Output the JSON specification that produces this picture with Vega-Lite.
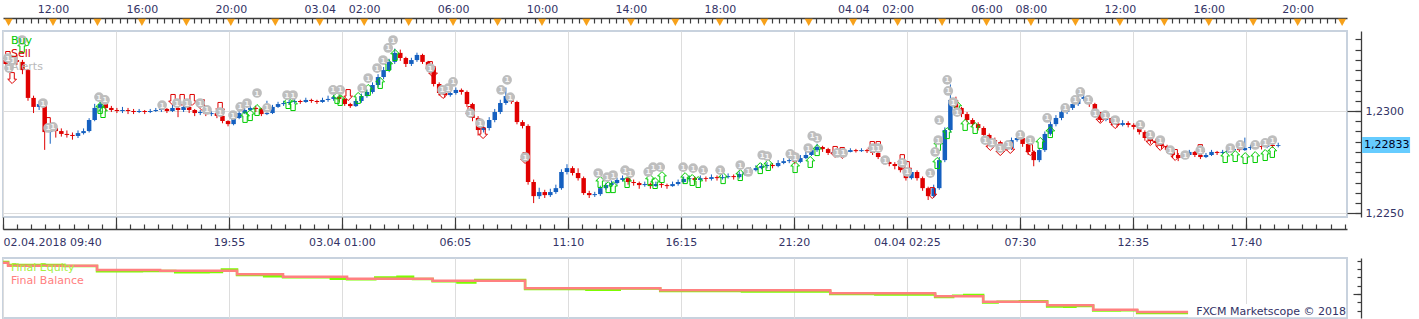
{
"$schema":"https://vega.github.io/schema/vega-lite/v6.json",
"background":"white",
"padding":{"left":-3,"top":2,"right":0,"bottom":0},
"bounds":"flush",
"spacing":41,
"config":{"font":"DejaVu Sans","view":{"stroke":"#c8d2de","strokeWidth":2},"scale":{"continuousPadding":0},
"axis":{"labelFont":"DejaVu Sans","labelFontSize":11,"labelColor":"#333366","domainColor":"#3c3c3c","tickColor":"#3c3c3c","gridColor":"#dddddd","gridWidth":1,"domainWidth":1.3,"tickWidth":1.2}},
"resolve":{"scale":{"color":"independent"},"legend":{"color":"independent"}},
"datasets":{
"tri":[{"t":10},{"t":12},{"t":14},{"t":16},{"t":18},{"t":20},{"t":22},{"t":24},{"t":26},{"t":28},{"t":30},{"t":32},{"t":34},{"t":36},{"t":38},{"t":40},{"t":42},{"t":44},{"t":46},{"t":48},{"t":50},{"t":52},{"t":54},{"t":56},{"t":58},{"t":60},{"t":62},{"t":64},{"t":66},{"t":68},{"t":70}],
"candles":[
{"t":9.875,"o":1.23249,"h":1.23265,"l":1.23215,"c":1.2323},
{"t":10.125,"o":1.2323,"h":1.2327,"l":1.2322,"c":1.23249},
{"t":10.375,"o":1.23249,"h":1.23275,"l":1.23225,"c":1.2324},
{"t":10.625,"o":1.2324,"h":1.2325,"l":1.2318,"c":1.232},
{"t":10.875,"o":1.232,"h":1.23205,"l":1.2305,"c":1.23064},
{"t":11.125,"o":1.23064,"h":1.23075,"l":1.2299,"c":1.2302},
{"t":11.375,"o":1.2302,"h":1.2305,"l":1.23005,"c":1.23034},
{"t":11.625,"o":1.23034,"h":1.2304,"l":1.2281,"c":1.22897},
{"t":11.875,"o":1.22897,"h":1.2293,"l":1.2284,"c":1.22917},
{"t":12.125,"o":1.22917,"h":1.22935,"l":1.2287,"c":1.22902},
{"t":12.375,"o":1.22902,"h":1.22915,"l":1.22875,"c":1.22888},
{"t":12.625,"o":1.22888,"h":1.22905,"l":1.2287,"c":1.22883},
{"t":12.875,"o":1.22883,"h":1.22895,"l":1.2286,"c":1.22878},
{"t":13.125,"o":1.22878,"h":1.22905,"l":1.22868,"c":1.22892},
{"t":13.375,"o":1.22892,"h":1.22915,"l":1.22885,"c":1.22902},
{"t":13.625,"o":1.22902,"h":1.22965,"l":1.22895,"c":1.22956},
{"t":13.875,"o":1.22956,"h":1.23035,"l":1.2295,"c":1.23015},
{"t":14.125,"o":1.23015,"h":1.23045,"l":1.23,"c":1.23034},
{"t":14.375,"o":1.23034,"h":1.2304,"l":1.23,"c":1.23015},
{"t":14.625,"o":1.23015,"h":1.23025,"l":1.22995,"c":1.23005},
{"t":14.875,"o":1.23005,"h":1.23015,"l":1.2299,"c":1.23},
{"t":15.125,"o":1.23,"h":1.2302,"l":1.2299,"c":1.23005},
{"t":15.375,"o":1.23005,"h":1.23015,"l":1.22985,"c":1.23},
{"t":15.625,"o":1.23,"h":1.2301,"l":1.22985,"c":1.22995},
{"t":15.875,"o":1.22995,"h":1.2301,"l":1.2299,"c":1.23},
{"t":16.125,"o":1.23,"h":1.23005,"l":1.22985,"c":1.22995},
{"t":16.375,"o":1.22995,"h":1.2301,"l":1.2299,"c":1.23},
{"t":16.625,"o":1.23,"h":1.23015,"l":1.22995,"c":1.23005},
{"t":16.875,"o":1.23005,"h":1.2302,"l":1.22995,"c":1.2301},
{"t":17.125,"o":1.2301,"h":1.23015,"l":1.2299,"c":1.23},
{"t":17.375,"o":1.23,"h":1.2303,"l":1.22995,"c":1.23015},
{"t":17.625,"o":1.23015,"h":1.2302,"l":1.2297,"c":1.23005},
{"t":17.875,"o":1.23005,"h":1.23035,"l":1.22995,"c":1.2302},
{"t":18.125,"o":1.2302,"h":1.2303,"l":1.2299,"c":1.23005},
{"t":18.375,"o":1.23005,"h":1.2301,"l":1.22975,"c":1.2299},
{"t":18.625,"o":1.2299,"h":1.23005,"l":1.2298,"c":1.22995},
{"t":18.875,"o":1.22995,"h":1.23,"l":1.22975,"c":1.22985},
{"t":19.125,"o":1.22985,"h":1.23,"l":1.22975,"c":1.2299},
{"t":19.375,"o":1.2299,"h":1.22995,"l":1.22965,"c":1.22976},
{"t":19.625,"o":1.22976,"h":1.2298,"l":1.2294,"c":1.22951},
{"t":19.875,"o":1.22951,"h":1.22955,"l":1.22925,"c":1.22936},
{"t":20.125,"o":1.22936,"h":1.22975,"l":1.2293,"c":1.22966},
{"t":20.375,"o":1.22966,"h":1.23,"l":1.2296,"c":1.2299},
{"t":20.625,"o":1.2299,"h":1.23015,"l":1.22985,"c":1.23005},
{"t":20.875,"o":1.23005,"h":1.2303,"l":1.23,"c":1.23015},
{"t":21.125,"o":1.23015,"h":1.23025,"l":1.22995,"c":1.2301},
{"t":21.375,"o":1.2301,"h":1.23015,"l":1.22975,"c":1.22985},
{"t":21.625,"o":1.22985,"h":1.2305,"l":1.2298,"c":1.2299},
{"t":21.875,"o":1.2299,"h":1.2303,"l":1.22985,"c":1.2302},
{"t":22.125,"o":1.2302,"h":1.23045,"l":1.23015,"c":1.23034},
{"t":22.375,"o":1.23034,"h":1.2305,"l":1.23025,"c":1.23039},
{"t":22.625,"o":1.23039,"h":1.23055,"l":1.2303,"c":1.23044},
{"t":22.875,"o":1.23044,"h":1.2306,"l":1.23035,"c":1.23049},
{"t":23.125,"o":1.23049,"h":1.23055,"l":1.23035,"c":1.23044},
{"t":23.375,"o":1.23044,"h":1.23065,"l":1.2304,"c":1.23054},
{"t":23.625,"o":1.23054,"h":1.2306,"l":1.2304,"c":1.23049},
{"t":23.875,"o":1.23049,"h":1.23055,"l":1.23035,"c":1.23044},
{"t":24.125,"o":1.23044,"h":1.23065,"l":1.2304,"c":1.23054},
{"t":24.375,"o":1.23054,"h":1.23075,"l":1.23045,"c":1.23059},
{"t":24.625,"o":1.23059,"h":1.2308,"l":1.2305,"c":1.23068},
{"t":24.875,"o":1.23068,"h":1.23075,"l":1.23045,"c":1.23059},
{"t":25.125,"o":1.23059,"h":1.23065,"l":1.23025,"c":1.23034},
{"t":25.375,"o":1.23034,"h":1.2304,"l":1.23015,"c":1.23024},
{"t":25.625,"o":1.23024,"h":1.2306,"l":1.2302,"c":1.23049},
{"t":25.875,"o":1.23049,"h":1.23085,"l":1.2304,"c":1.23073},
{"t":26.125,"o":1.23073,"h":1.23105,"l":1.23065,"c":1.23093},
{"t":26.375,"o":1.23093,"h":1.2314,"l":1.23085,"c":1.23127},
{"t":26.625,"o":1.23127,"h":1.2318,"l":1.23115,"c":1.23166},
{"t":26.875,"o":1.23166,"h":1.23215,"l":1.23155,"c":1.232},
{"t":27.125,"o":1.232,"h":1.23255,"l":1.2319,"c":1.2324},
{"t":27.375,"o":1.2324,"h":1.23305,"l":1.2323,"c":1.23284},
{"t":27.625,"o":1.23284,"h":1.233,"l":1.23245,"c":1.23259},
{"t":27.875,"o":1.23259,"h":1.23265,"l":1.23215,"c":1.2323},
{"t":28.125,"o":1.2323,"h":1.2326,"l":1.2322,"c":1.23249},
{"t":28.375,"o":1.23249,"h":1.23285,"l":1.2324,"c":1.23274},
{"t":28.625,"o":1.23274,"h":1.2328,"l":1.2323,"c":1.2324},
{"t":28.875,"o":1.2324,"h":1.23245,"l":1.23195,"c":1.2321},
{"t":29.125,"o":1.2321,"h":1.23215,"l":1.2312,"c":1.23132},
{"t":29.375,"o":1.23132,"h":1.2314,"l":1.23075,"c":1.23088},
{"t":29.625,"o":1.23088,"h":1.231,"l":1.23065,"c":1.23078},
{"t":29.875,"o":1.23078,"h":1.231,"l":1.2307,"c":1.23088},
{"t":30.125,"o":1.23088,"h":1.23115,"l":1.2308,"c":1.23103},
{"t":30.375,"o":1.23103,"h":1.2311,"l":1.2308,"c":1.23093},
{"t":30.625,"o":1.23093,"h":1.231,"l":1.2302,"c":1.23034},
{"t":30.875,"o":1.23034,"h":1.2304,"l":1.2295,"c":1.22966},
{"t":31.125,"o":1.22966,"h":1.22975,"l":1.2288,"c":1.22907},
{"t":31.375,"o":1.22907,"h":1.22935,"l":1.22895,"c":1.22917},
{"t":31.625,"o":1.22917,"h":1.2297,"l":1.22905,"c":1.22956},
{"t":31.875,"o":1.22956,"h":1.2301,"l":1.22945,"c":1.22995},
{"t":32.125,"o":1.22995,"h":1.23055,"l":1.22985,"c":1.23039},
{"t":32.375,"o":1.23039,"h":1.23115,"l":1.2303,"c":1.23073},
{"t":32.625,"o":1.23073,"h":1.2308,"l":1.23035,"c":1.23044},
{"t":32.875,"o":1.23044,"h":1.2305,"l":1.22935,"c":1.22946},
{"t":33.125,"o":1.22946,"h":1.22955,"l":1.22915,"c":1.22927},
{"t":33.375,"o":1.22927,"h":1.22935,"l":1.2264,"c":1.22653},
{"t":33.625,"o":1.22653,"h":1.22665,"l":1.2255,"c":1.22584},
{"t":33.875,"o":1.22584,"h":1.22625,"l":1.2257,"c":1.22604},
{"t":34.125,"o":1.22604,"h":1.22615,"l":1.22575,"c":1.22589},
{"t":34.375,"o":1.22589,"h":1.2262,"l":1.2258,"c":1.22604},
{"t":34.625,"o":1.22604,"h":1.2264,"l":1.22595,"c":1.22623},
{"t":34.875,"o":1.22623,"h":1.22715,"l":1.22615,"c":1.22702},
{"t":35.125,"o":1.22702,"h":1.2274,"l":1.2269,"c":1.22721},
{"t":35.375,"o":1.22721,"h":1.2273,"l":1.22685,"c":1.22697},
{"t":35.625,"o":1.22697,"h":1.2272,"l":1.2266,"c":1.22672},
{"t":35.875,"o":1.22672,"h":1.2268,"l":1.2259,"c":1.22599},
{"t":36.125,"o":1.22599,"h":1.2261,"l":1.22575,"c":1.22589},
{"t":36.375,"o":1.22589,"h":1.22605,"l":1.2258,"c":1.22594},
{"t":36.625,"o":1.22594,"h":1.22635,"l":1.22585,"c":1.22623},
{"t":36.875,"o":1.22623,"h":1.2265,"l":1.22615,"c":1.22638},
{"t":37.125,"o":1.22638,"h":1.2266,"l":1.2263,"c":1.22648},
{"t":37.375,"o":1.22648,"h":1.22675,"l":1.2264,"c":1.22663},
{"t":37.625,"o":1.22663,"h":1.22685,"l":1.22655,"c":1.22672},
{"t":37.875,"o":1.22672,"h":1.2268,"l":1.2264,"c":1.22653},
{"t":38.125,"o":1.22653,"h":1.22665,"l":1.22635,"c":1.22648},
{"t":38.375,"o":1.22648,"h":1.22655,"l":1.2262,"c":1.22638},
{"t":38.625,"o":1.22638,"h":1.22655,"l":1.2263,"c":1.22643},
{"t":38.875,"o":1.22643,"h":1.2265,"l":1.2262,"c":1.22633},
{"t":39.125,"o":1.22633,"h":1.22655,"l":1.2263,"c":1.22643},
{"t":39.375,"o":1.22643,"h":1.2265,"l":1.22625,"c":1.22638},
{"t":39.625,"o":1.22638,"h":1.22645,"l":1.2262,"c":1.22633},
{"t":39.875,"o":1.22633,"h":1.22655,"l":1.2263,"c":1.22643},
{"t":40.125,"o":1.22643,"h":1.22665,"l":1.22635,"c":1.22653},
{"t":40.375,"o":1.22653,"h":1.2268,"l":1.22645,"c":1.22668},
{"t":40.625,"o":1.22668,"h":1.22685,"l":1.22655,"c":1.22672},
{"t":40.875,"o":1.22672,"h":1.2268,"l":1.2264,"c":1.22663},
{"t":41.125,"o":1.22663,"h":1.22685,"l":1.22655,"c":1.22672},
{"t":41.375,"o":1.22672,"h":1.2268,"l":1.22655,"c":1.22668},
{"t":41.625,"o":1.22668,"h":1.2269,"l":1.2266,"c":1.22677},
{"t":41.875,"o":1.22677,"h":1.22685,"l":1.2266,"c":1.22672},
{"t":42.125,"o":1.22672,"h":1.2269,"l":1.22665,"c":1.22677},
{"t":42.375,"o":1.22677,"h":1.22695,"l":1.2267,"c":1.22682},
{"t":42.625,"o":1.22682,"h":1.2269,"l":1.22665,"c":1.22677},
{"t":42.875,"o":1.22677,"h":1.22705,"l":1.2267,"c":1.22692},
{"t":43.125,"o":1.22692,"h":1.22715,"l":1.22685,"c":1.22702},
{"t":43.375,"o":1.22702,"h":1.22725,"l":1.22695,"c":1.22711},
{"t":43.625,"o":1.22711,"h":1.22735,"l":1.22705,"c":1.22721},
{"t":43.875,"o":1.22721,"h":1.22745,"l":1.22715,"c":1.22731},
{"t":44.125,"o":1.22731,"h":1.2275,"l":1.2272,"c":1.22736},
{"t":44.375,"o":1.22736,"h":1.22745,"l":1.2272,"c":1.22731},
{"t":44.625,"o":1.22731,"h":1.2276,"l":1.22725,"c":1.22746},
{"t":44.875,"o":1.22746,"h":1.2277,"l":1.2274,"c":1.22755},
{"t":45.125,"o":1.22755,"h":1.22775,"l":1.22745,"c":1.2276},
{"t":45.375,"o":1.2276,"h":1.228,"l":1.2274,"c":1.22751},
{"t":45.625,"o":1.22751,"h":1.22785,"l":1.22745,"c":1.2277},
{"t":45.875,"o":1.2277,"h":1.228,"l":1.22765,"c":1.22785},
{"t":46.125,"o":1.22785,"h":1.22825,"l":1.2278,"c":1.22809},
{"t":46.375,"o":1.22809,"h":1.2284,"l":1.228,"c":1.22824},
{"t":46.625,"o":1.22824,"h":1.2283,"l":1.228,"c":1.22814},
{"t":46.875,"o":1.22814,"h":1.2282,"l":1.22785,"c":1.22795},
{"t":47.125,"o":1.22795,"h":1.2281,"l":1.2279,"c":1.228},
{"t":47.375,"o":1.228,"h":1.22815,"l":1.22795,"c":1.22804},
{"t":47.625,"o":1.22804,"h":1.22812,"l":1.22792,"c":1.228},
{"t":47.875,"o":1.228,"h":1.22818,"l":1.22798,"c":1.22809},
{"t":48.125,"o":1.22809,"h":1.22815,"l":1.22797,"c":1.22804},
{"t":48.375,"o":1.22804,"h":1.22818,"l":1.228,"c":1.22809},
{"t":48.625,"o":1.22809,"h":1.22815,"l":1.22795,"c":1.22804},
{"t":48.875,"o":1.22804,"h":1.22812,"l":1.22785,"c":1.22795},
{"t":49.125,"o":1.22795,"h":1.228,"l":1.22765,"c":1.22775},
{"t":49.375,"o":1.22775,"h":1.2278,"l":1.2274,"c":1.22751},
{"t":49.625,"o":1.22751,"h":1.2276,"l":1.2273,"c":1.22741},
{"t":49.875,"o":1.22741,"h":1.2275,"l":1.22715,"c":1.22731},
{"t":50.125,"o":1.22731,"h":1.2274,"l":1.227,"c":1.22711},
{"t":50.375,"o":1.22711,"h":1.2272,"l":1.2266,"c":1.22672},
{"t":50.625,"o":1.22672,"h":1.22715,"l":1.22665,"c":1.22702},
{"t":50.875,"o":1.22702,"h":1.2271,"l":1.2266,"c":1.22672},
{"t":51.125,"o":1.22672,"h":1.2268,"l":1.2261,"c":1.22623},
{"t":51.375,"o":1.22623,"h":1.2263,"l":1.22565,"c":1.22584},
{"t":51.625,"o":1.22584,"h":1.2264,"l":1.22575,"c":1.22623},
{"t":51.875,"o":1.22623,"h":1.22775,"l":1.22615,"c":1.2276},
{"t":52.125,"o":1.2276,"h":1.2292,"l":1.2275,"c":1.22907},
{"t":52.375,"o":1.22907,"h":1.2313,"l":1.22895,"c":1.23054},
{"t":52.625,"o":1.23054,"h":1.2307,"l":1.23,"c":1.23015},
{"t":52.875,"o":1.23015,"h":1.2302,"l":1.2297,"c":1.22985},
{"t":53.125,"o":1.22985,"h":1.22995,"l":1.22945,"c":1.22956},
{"t":53.375,"o":1.22956,"h":1.22965,"l":1.22925,"c":1.22936},
{"t":53.625,"o":1.22936,"h":1.22945,"l":1.22905,"c":1.22917},
{"t":53.875,"o":1.22917,"h":1.22925,"l":1.2287,"c":1.22883},
{"t":54.125,"o":1.22883,"h":1.2289,"l":1.22845,"c":1.22858},
{"t":54.375,"o":1.22858,"h":1.2287,"l":1.22835,"c":1.22848},
{"t":54.625,"o":1.22848,"h":1.22855,"l":1.22815,"c":1.22829},
{"t":54.875,"o":1.22829,"h":1.2284,"l":1.22805,"c":1.22819},
{"t":55.125,"o":1.22819,"h":1.2287,"l":1.2281,"c":1.22858},
{"t":55.375,"o":1.22858,"h":1.2288,"l":1.2285,"c":1.22868},
{"t":55.625,"o":1.22868,"h":1.22875,"l":1.22825,"c":1.22839},
{"t":55.875,"o":1.22839,"h":1.22845,"l":1.22785,"c":1.228},
{"t":56.125,"o":1.228,"h":1.22805,"l":1.2273,"c":1.2276},
{"t":56.375,"o":1.2276,"h":1.2282,"l":1.2275,"c":1.22809},
{"t":56.625,"o":1.22809,"h":1.229,"l":1.228,"c":1.22888},
{"t":56.875,"o":1.22888,"h":1.2295,"l":1.2288,"c":1.22936},
{"t":57.125,"o":1.22936,"h":1.2298,"l":1.22925,"c":1.22966},
{"t":57.375,"o":1.22966,"h":1.2301,"l":1.22955,"c":1.22995},
{"t":57.625,"o":1.22995,"h":1.2303,"l":1.22985,"c":1.23015},
{"t":57.875,"o":1.23015,"h":1.2305,"l":1.23005,"c":1.23034},
{"t":58.125,"o":1.23034,"h":1.23075,"l":1.23025,"c":1.23059},
{"t":58.375,"o":1.23059,"h":1.23095,"l":1.2305,"c":1.23068},
{"t":58.625,"o":1.23068,"h":1.23075,"l":1.2302,"c":1.23034},
{"t":58.875,"o":1.23034,"h":1.2304,"l":1.2297,"c":1.22985},
{"t":59.125,"o":1.22985,"h":1.2299,"l":1.22945,"c":1.22956},
{"t":59.375,"o":1.22956,"h":1.2298,"l":1.2295,"c":1.22966},
{"t":59.625,"o":1.22966,"h":1.2297,"l":1.2293,"c":1.22941},
{"t":59.875,"o":1.22941,"h":1.2295,"l":1.2292,"c":1.22932},
{"t":60.125,"o":1.22932,"h":1.22955,"l":1.22925,"c":1.22941},
{"t":60.375,"o":1.22941,"h":1.2295,"l":1.2292,"c":1.22932},
{"t":60.625,"o":1.22932,"h":1.2294,"l":1.2291,"c":1.22922},
{"t":60.875,"o":1.22922,"h":1.2293,"l":1.22885,"c":1.22897},
{"t":61.125,"o":1.22897,"h":1.22905,"l":1.22855,"c":1.22868},
{"t":61.375,"o":1.22868,"h":1.22875,"l":1.2284,"c":1.22853},
{"t":61.625,"o":1.22853,"h":1.22865,"l":1.2283,"c":1.22844},
{"t":61.875,"o":1.22844,"h":1.2285,"l":1.22815,"c":1.22829},
{"t":62.125,"o":1.22829,"h":1.22835,"l":1.22795,"c":1.22809},
{"t":62.375,"o":1.22809,"h":1.22815,"l":1.2277,"c":1.22785},
{"t":62.625,"o":1.22785,"h":1.22795,"l":1.22755,"c":1.2277},
{"t":62.875,"o":1.2277,"h":1.22795,"l":1.22765,"c":1.22785},
{"t":63.125,"o":1.22785,"h":1.2281,"l":1.2278,"c":1.228},
{"t":63.375,"o":1.228,"h":1.22805,"l":1.22775,"c":1.22785},
{"t":63.625,"o":1.22785,"h":1.22795,"l":1.22765,"c":1.22775},
{"t":63.875,"o":1.22775,"h":1.22795,"l":1.2277,"c":1.22785},
{"t":64.125,"o":1.22785,"h":1.2281,"l":1.2278,"c":1.228},
{"t":64.375,"o":1.228,"h":1.22805,"l":1.22785,"c":1.22795},
{"t":64.625,"o":1.22795,"h":1.2281,"l":1.2279,"c":1.228},
{"t":64.875,"o":1.228,"h":1.22818,"l":1.22795,"c":1.22809},
{"t":65.125,"o":1.22809,"h":1.22825,"l":1.228,"c":1.22814},
{"t":65.375,"o":1.22814,"h":1.2282,"l":1.228,"c":1.22809},
{"t":65.625,"o":1.22809,"h":1.2287,"l":1.22805,"c":1.22819},
{"t":65.875,"o":1.22819,"h":1.22835,"l":1.2281,"c":1.22824},
{"t":66.125,"o":1.22824,"h":1.2284,"l":1.22815,"c":1.22829},
{"t":66.375,"o":1.22829,"h":1.22838,"l":1.22812,"c":1.22824},
{"t":66.625,"o":1.22824,"h":1.22845,"l":1.22818,"c":1.22834},
{"t":66.875,"o":1.22834,"h":1.22842,"l":1.2282,"c":1.22829},
{"t":67.125,"o":1.22829,"h":1.22845,"l":1.22822,"c":1.22833}
],
"markers":[
{"t":9.97,"p":1.23259,"type":"Alerts"},{"t":10.02,"p":1.2321,"type":"Alerts"},{"t":10.2,"p":1.23249,"type":"Alerts"},{"t":10.61,"p":1.23347,"type":"Alerts"},{"t":11.55,"p":1.23039,"type":"Alerts"},{"t":11.78,"p":1.22917,"type":"Alerts"},{"t":12.0,"p":1.22922,"type":"Alerts"},{"t":14.07,"p":1.23068,"type":"Alerts"},{"t":14.34,"p":1.23054,"type":"Alerts"},{"t":16.91,"p":1.23029,"type":"Alerts"},{"t":17.58,"p":1.23039,"type":"Alerts"},{"t":18.03,"p":1.23039,"type":"Alerts"},{"t":18.62,"p":1.23039,"type":"Alerts"},{"t":18.93,"p":1.23005,"type":"Alerts"},{"t":19.52,"p":1.22995,"type":"Alerts"},{"t":20.1,"p":1.2298,"type":"Alerts"},{"t":20.42,"p":1.2302,"type":"Alerts"},{"t":20.73,"p":1.23039,"type":"Alerts"},{"t":21.18,"p":1.23088,"type":"Alerts"},{"t":21.63,"p":1.23015,"type":"Alerts"},{"t":22.53,"p":1.23078,"type":"Alerts"},{"t":22.8,"p":1.23078,"type":"Alerts"},{"t":24.6,"p":1.23103,"type":"Alerts"},{"t":24.92,"p":1.23103,"type":"Alerts"},{"t":25.91,"p":1.23112,"type":"Alerts"},{"t":26.18,"p":1.23161,"type":"Alerts"},{"t":26.58,"p":1.2321,"type":"Alerts"},{"t":26.85,"p":1.23249,"type":"Alerts"},{"t":27.08,"p":1.23308,"type":"Alerts"},{"t":27.3,"p":1.23347,"type":"Alerts"},{"t":28.97,"p":1.2321,"type":"Alerts"},{"t":29.51,"p":1.23103,"type":"Alerts"},{"t":29.78,"p":1.23112,"type":"Alerts"},{"t":30.0,"p":1.23142,"type":"Alerts"},{"t":30.77,"p":1.2299,"type":"Alerts"},{"t":31.22,"p":1.22941,"type":"Alerts"},{"t":32.16,"p":1.23103,"type":"Alerts"},{"t":32.43,"p":1.23152,"type":"Alerts"},{"t":32.57,"p":1.23068,"type":"Alerts"},{"t":33.24,"p":1.22775,"type":"Alerts"},{"t":36.53,"p":1.22697,"type":"Alerts"},{"t":36.93,"p":1.22677,"type":"Alerts"},{"t":37.2,"p":1.22687,"type":"Alerts"},{"t":37.74,"p":1.22711,"type":"Alerts"},{"t":37.97,"p":1.22697,"type":"Alerts"},{"t":38.78,"p":1.22702,"type":"Alerts"},{"t":39.0,"p":1.22726,"type":"Alerts"},{"t":39.32,"p":1.22726,"type":"Alerts"},{"t":40.35,"p":1.22726,"type":"Alerts"},{"t":40.8,"p":1.22721,"type":"Alerts"},{"t":41.25,"p":1.22711,"type":"Alerts"},{"t":42.02,"p":1.22711,"type":"Alerts"},{"t":42.92,"p":1.22736,"type":"Alerts"},{"t":43.28,"p":1.22702,"type":"Alerts"},{"t":43.91,"p":1.22785,"type":"Alerts"},{"t":44.13,"p":1.2278,"type":"Alerts"},{"t":45.17,"p":1.2279,"type":"Alerts"},{"t":45.39,"p":1.22775,"type":"Alerts"},{"t":45.98,"p":1.22819,"type":"Alerts"},{"t":46.16,"p":1.22878,"type":"Alerts"},{"t":46.38,"p":1.22868,"type":"Alerts"},{"t":47.28,"p":1.22795,"type":"Alerts"},{"t":47.55,"p":1.22795,"type":"Alerts"},{"t":48.9,"p":1.22819,"type":"Alerts"},{"t":49.13,"p":1.22819,"type":"Alerts"},{"t":49.44,"p":1.2276,"type":"Alerts"},{"t":50.21,"p":1.22746,"type":"Alerts"},{"t":50.43,"p":1.22702,"type":"Alerts"},{"t":51.47,"p":1.22697,"type":"Alerts"},{"t":51.69,"p":1.228,"type":"Alerts"},{"t":51.87,"p":1.22956,"type":"Alerts"},{"t":51.83,"p":1.22858,"type":"Alerts"},{"t":52.23,"p":1.23152,"type":"Alerts"},{"t":52.28,"p":1.23098,"type":"Alerts"},{"t":52.5,"p":1.23044,"type":"Alerts"},{"t":52.68,"p":1.22995,"type":"Alerts"},{"t":53.94,"p":1.22858,"type":"Alerts"},{"t":54.26,"p":1.22844,"type":"Alerts"},{"t":54.62,"p":1.22819,"type":"Alerts"},{"t":54.98,"p":1.22834,"type":"Alerts"},{"t":55.52,"p":1.22883,"type":"Alerts"},{"t":55.97,"p":1.22858,"type":"Alerts"},{"t":56.73,"p":1.22966,"type":"Alerts"},{"t":57.54,"p":1.23015,"type":"Alerts"},{"t":57.99,"p":1.23054,"type":"Alerts"},{"t":58.22,"p":1.23093,"type":"Alerts"},{"t":58.58,"p":1.23054,"type":"Alerts"},{"t":58.89,"p":1.2299,"type":"Alerts"},{"t":59.34,"p":1.2298,"type":"Alerts"},{"t":59.79,"p":1.22956,"type":"Alerts"},{"t":60.92,"p":1.22932,"type":"Alerts"},{"t":61.37,"p":1.22883,"type":"Alerts"},{"t":61.82,"p":1.22858,"type":"Alerts"},{"t":62.27,"p":1.22809,"type":"Alerts"},{"t":62.94,"p":1.22785,"type":"Alerts"},{"t":63.62,"p":1.22809,"type":"Alerts"},{"t":64.97,"p":1.22819,"type":"Alerts"},{"t":65.42,"p":1.22834,"type":"Alerts"},{"t":66.09,"p":1.22834,"type":"Alerts"},{"t":66.54,"p":1.22844,"type":"Alerts"},{"t":66.86,"p":1.22858,"type":"Alerts"},
{"t":10.61,"p":1.23313,"type":"Buy"},{"t":14.12,"p":1.23015,"type":"Buy"},{"t":14.25,"p":1.22995,"type":"Buy"},{"t":20.64,"p":1.22971,"type":"Buy"},{"t":20.87,"p":1.2298,"type":"Buy"},{"t":21.18,"p":1.23005,"type":"Buy"},{"t":22.58,"p":1.23039,"type":"Buy"},{"t":22.8,"p":1.23029,"type":"Buy"},{"t":24.78,"p":1.23064,"type":"Buy"},{"t":24.92,"p":1.23054,"type":"Buy"},{"t":25.73,"p":1.23064,"type":"Buy"},{"t":26.18,"p":1.23103,"type":"Buy"},{"t":26.72,"p":1.23137,"type":"Buy"},{"t":27.08,"p":1.23225,"type":"Buy"},{"t":27.39,"p":1.23274,"type":"Buy"},{"t":36.62,"p":1.22653,"type":"Buy"},{"t":36.98,"p":1.22628,"type":"Buy"},{"t":37.2,"p":1.22628,"type":"Buy"},{"t":37.83,"p":1.22653,"type":"Buy"},{"t":38.86,"p":1.22663,"type":"Buy"},{"t":39.09,"p":1.22648,"type":"Buy"},{"t":39.4,"p":1.22677,"type":"Buy"},{"t":40.44,"p":1.22672,"type":"Buy"},{"t":40.76,"p":1.22663,"type":"Buy"},{"t":41.03,"p":1.22653,"type":"Buy"},{"t":42.15,"p":1.22672,"type":"Buy"},{"t":42.92,"p":1.22687,"type":"Buy"},{"t":43.82,"p":1.22721,"type":"Buy"},{"t":44.18,"p":1.22736,"type":"Buy"},{"t":45.39,"p":1.22726,"type":"Buy"},{"t":46.07,"p":1.22751,"type":"Buy"},{"t":46.38,"p":1.22809,"type":"Buy"},{"t":51.78,"p":1.22746,"type":"Buy"},{"t":51.83,"p":1.22834,"type":"Buy"},{"t":52.23,"p":1.22892,"type":"Buy"},{"t":52.68,"p":1.2302,"type":"Buy"},{"t":53.04,"p":1.22932,"type":"Buy"},{"t":53.49,"p":1.22917,"type":"Buy"},{"t":56.42,"p":1.22844,"type":"Buy"},{"t":56.87,"p":1.22897,"type":"Buy"},{"t":64.74,"p":1.22775,"type":"Buy"},{"t":65.19,"p":1.2278,"type":"Buy"},{"t":65.64,"p":1.2277,"type":"Buy"},{"t":66.09,"p":1.22775,"type":"Buy"},{"t":66.54,"p":1.22785,"type":"Buy"},{"t":66.86,"p":1.228,"type":"Buy"},
{"t":9.97,"p":1.23264,"type":"Sell"},{"t":10.16,"p":1.23161,"type":"Sell"},{"t":11.78,"p":1.22941,"type":"Sell"},{"t":17.4,"p":1.23054,"type":"Sell"},{"t":17.81,"p":1.23054,"type":"Sell"},{"t":18.26,"p":1.23054,"type":"Sell"},{"t":18.71,"p":1.23029,"type":"Sell"},{"t":19.52,"p":1.23015,"type":"Sell"},{"t":25.28,"p":1.23078,"type":"Sell"},{"t":28.97,"p":1.23215,"type":"Sell"},{"t":29.1,"p":1.23191,"type":"Sell"},{"t":29.55,"p":1.23088,"type":"Sell"},{"t":30.77,"p":1.22995,"type":"Sell"},{"t":31.35,"p":1.22892,"type":"Sell"},{"t":33.24,"p":1.2277,"type":"Sell"},{"t":47.19,"p":1.228,"type":"Sell"},{"t":47.51,"p":1.22795,"type":"Sell"},{"t":48.86,"p":1.22824,"type":"Sell"},{"t":49.13,"p":1.22824,"type":"Sell"},{"t":50.21,"p":1.2276,"type":"Sell"},{"t":50.43,"p":1.22726,"type":"Sell"},{"t":51.56,"p":1.22599,"type":"Sell"},{"t":54.17,"p":1.22834,"type":"Sell"},{"t":54.62,"p":1.22809,"type":"Sell"},{"t":55.07,"p":1.22819,"type":"Sell"},{"t":55.97,"p":1.22809,"type":"Sell"},{"t":59.12,"p":1.22966,"type":"Sell"},{"t":59.79,"p":1.22941,"type":"Sell"},{"t":61.37,"p":1.22858,"type":"Sell"},{"t":61.82,"p":1.22834,"type":"Sell"},{"t":62.49,"p":1.22785,"type":"Sell"},{"t":63.62,"p":1.22809,"type":"Sell"}
],
"eq":[
{"t":9.75,"v":9938.5,"s":"Final Equity"},{"t":9.98,"v":9935,"s":"Final Equity"},{"t":12.5,"v":9933.8,"s":"Final Equity"},{"t":13.98,"v":9927.5,"s":"Final Equity"},{"t":16.0,"v":9927.8,"s":"Final Equity"},{"t":17.5,"v":9926.3,"s":"Final Equity"},{"t":19.0,"v":9926.5,"s":"Final Equity"},{"t":19.6,"v":9929.5,"s":"Final Equity"},{"t":20.28,"v":9923.0,"s":"Final Equity"},{"t":21.5,"v":9921.5,"s":"Final Equity"},{"t":22.35,"v":9920.3,"s":"Final Equity"},{"t":24.5,"v":9918.5,"s":"Final Equity"},{"t":25.23,"v":9917.8,"s":"Final Equity"},{"t":26.5,"v":9919.8,"s":"Final Equity"},{"t":27.5,"v":9920.8,"s":"Final Equity"},{"t":28.2,"v":9918.0,"s":"Final Equity"},{"t":29.08,"v":9915.5,"s":"Final Equity"},{"t":30.2,"v":9913.8,"s":"Final Equity"},{"t":31.0,"v":9916.8,"s":"Final Equity"},{"t":33.24,"v":9906.0,"s":"Final Equity"},{"t":36.0,"v":9905.0,"s":"Final Equity"},{"t":37.5,"v":9906.5,"s":"Final Equity"},{"t":39.32,"v":9903.6,"s":"Final Equity"},{"t":43.0,"v":9903.0,"s":"Final Equity"},{"t":46.97,"v":9900.0,"s":"Final Equity"},{"t":49.0,"v":9899.5,"s":"Final Equity"},{"t":51.69,"v":9896.5,"s":"Final Equity"},{"t":52.5,"v":9897.8,"s":"Final Equity"},{"t":53.0,"v":9898.8,"s":"Final Equity"},{"t":53.85,"v":9889.8,"s":"Final Equity"},{"t":54.5,"v":9890.6,"s":"Final Equity"},{"t":55.5,"v":9891.2,"s":"Final Equity"},{"t":56.73,"v":9885.0,"s":"Final Equity"},{"t":57.5,"v":9884.8,"s":"Final Equity"},{"t":58.0,"v":9885.5,"s":"Final Equity"},{"t":58.8,"v":9880.0,"s":"Final Equity"},{"t":60.0,"v":9880.5,"s":"Final Equity"},{"t":60.78,"v":9877.0,"s":"Final Equity"},{"t":62.0,"v":9877.2,"s":"Final Equity"},{"t":63.17,"v":9877.2,"s":"Final Equity"},
{"t":9.75,"v":9937.7,"s":"Final Balance"},{"t":9.98,"v":9934.1,"s":"Final Balance"},{"t":13.98,"v":9928.9,"s":"Final Balance"},{"t":16.82,"v":9928.1,"s":"Final Balance"},{"t":20.28,"v":9923.7,"s":"Final Balance"},{"t":22.35,"v":9920.8,"s":"Final Balance"},{"t":25.23,"v":9918.4,"s":"Final Balance"},{"t":29.08,"v":9916.0,"s":"Final Balance"},{"t":33.24,"v":9907.0,"s":"Final Balance"},{"t":39.32,"v":9904.5,"s":"Final Balance"},{"t":46.97,"v":9900.8,"s":"Final Balance"},{"t":51.69,"v":9897.2,"s":"Final Balance"},{"t":53.85,"v":9890.7,"s":"Final Balance"},{"t":56.73,"v":9886.4,"s":"Final Balance"},{"t":58.8,"v":9881.1,"s":"Final Balance"},{"t":60.78,"v":9878.3,"s":"Final Balance"},{"t":63.17,"v":9878.3,"s":"Final Balance"}
]
},
"vconcat":[
{
"width":1344,"height":186,
"resolve":{"axis":{"x":"independent","y":"independent"}},
"layer":[
{"data":{"name":"tri"},
 "mark":{"type":"point","shape":"M-1,-0.9L1,-0.9L0,0.9Z","filled":true,"color":"#f7a11a","opacity":1,"size":64,"strokeWidth":0},
 "encoding":{
  "x":{"field":"t","type":"quantitative","scale":{"domain":[9.75,70.22],"nice":false,"zero":false,"padding":0},
   "axis":{"orient":"top","offset":13,"values":[12,16,20,24,26,30,34,38,42,48,50,54,56,60,64,68],"labelExpr":"datum.value == 24 ? '03.04' : datum.value == 48 ? '04.04' : (format(datum.value % 24, '02d') + ':00')","ticks":false,"domain":true,"grid":false,"labelPadding":4,"labelOverlap":false,"title":null}},
  "y":{"datum":1.23433,"type":"quantitative","scale":{"domain":[1.22482,1.23391],"nice":false,"zero":false},"axis":null}}},
{"data":{"name":"candles"},
 "mark":{"type":"rule","strokeWidth":1},
 "encoding":{
  "x":{"field":"t","type":"quantitative","scale":{"domain":[9.75,70.22],"nice":false,"zero":false,"padding":0},
   "axis":{"orient":"top","offset":13,"values":[10,10.333,10.667,11,11.333,11.667,12,12.333,12.667,13,13.333,13.667,14,14.333,14.667,15,15.333,15.667,16,16.333,16.667,17,17.333,17.667,18,18.333,18.667,19,19.333,19.667,20,20.333,20.667,21,21.333,21.667,22,22.333,22.667,23,23.333,23.667,24,24.333,24.667,25,25.333,25.667,26,26.333,26.667,27,27.333,27.667,28,28.333,28.667,29,29.333,29.667,30,30.333,30.667,31,31.333,31.667,32,32.333,32.667,33,33.333,33.667,34,34.333,34.667,35,35.333,35.667,36,36.333,36.667,37,37.333,37.667,38,38.333,38.667,39,39.333,39.667,40,40.333,40.667,41,41.333,41.667,42,42.333,42.667,43,43.333,43.667,44,44.333,44.667,45,45.333,45.667,46,46.333,46.667,47,47.333,47.667,48,48.333,48.667,49,49.333,49.667,50,50.333,50.667,51,51.333,51.667,52,52.333,52.667,53,53.333,53.667,54,54.333,54.667,55,55.333,55.667,56,56.333,56.667,57,57.333,57.667,58,58.333,58.667,59,59.333,59.667,60,60.333,60.667,61,61.333,61.667,62,62.333,62.667,63,63.333,63.667,64,64.333,64.667,65,65.333,65.667,66,66.333,66.667,67,67.333,67.667,68,68.333,68.667,69,69.333,69.667,70],"tickSize":-5,"labels":false,"domain":false,"grid":false,"title":null}},
  "y":{"field":"l","type":"quantitative","scale":{"domain":[1.22482,1.23391],"nice":false,"zero":false},
   "axis":{"orient":"right","offset":14,"values":[1.225,1.23],"labelExpr":"replace(format(datum.value, '.4f'), '.', ',')","ticks":false,"domain":true,"grid":true,"labelPadding":4,"title":null}},
  "y2":{"field":"h"},
  "color":{"condition":{"test":"datum.c >= datum.o","value":"#1560c0"},"value":"#e00000"}}},
{"data":{"name":"candles"},
 "mark":{"type":"bar","size":4.5},
 "encoding":{
  "x":{"field":"t","type":"quantitative","scale":{"domain":[9.75,70.22],"nice":false,"zero":false,"padding":0},
   "axis":{"orient":"bottom","offset":12,"values":[9.75,14.833,19.917,25.0,30.083,35.167,40.25,45.333,50.417,55.5,60.583,65.667],"labelExpr":"datum.value < 10 ? '02.04.2018 09:40' : datum.value < 15 ? '' : datum.value < 20 ? '19:55' : datum.value < 26 ? '03.04 01:00' : datum.value < 31 ? '06:05' : datum.value < 36 ? '11:10' : datum.value < 41 ? '16:15' : datum.value < 46 ? '21:20' : datum.value < 51 ? '04.04 02:25' : datum.value < 56 ? '07:30' : datum.value < 61 ? '12:35' : '17:40'","labelAlign":{"condition":{"test":"datum.value < 10","value":"left"},"value":"center"},"ticks":false,"domain":true,"grid":true,"labelPadding":7,"labelOverlap":false,"title":null}},
  "y":{"field":"o","type":"quantitative","scale":{"domain":[1.22482,1.23391],"nice":false,"zero":false},
   "axis":{"orient":"right","offset":14,"values":[1.225,1.23],"tickSize":-14,"labels":false,"domain":false,"grid":false,"title":null}},
  "y2":{"field":"c"},
  "color":{"condition":{"test":"datum.c >= datum.o","value":"#1560c0"},"value":"#e00000"}}},
{"data":{"name":"markers"},
 "transform":[{"filter":"datum.type == 'Buy'"}],
 "mark":{"type":"point","shape":"M0,-1L0.8,-0.2L0.4,-0.2L0.4,1L-0.4,1L-0.4,-0.2L-0.8,-0.2Z","filled":false,"size":120,"strokeWidth":1,"opacity":1},
 "encoding":{
  "x":{"field":"t","type":"quantitative","scale":{"domain":[9.75,70.22],"nice":false,"zero":false,"padding":0},
   "axis":{"orient":"bottom","offset":12,"values":[9.75,10.385,11.021,11.656,12.292,12.927,13.563,14.198,14.833,15.469,16.104,16.74,17.375,18.01,18.646,19.281,19.917,20.552,21.188,21.823,22.458,23.094,23.729,24.365,25.0,25.635,26.271,26.906,27.542,28.177,28.813,29.448,30.083,30.719,31.354,31.99,32.625,33.26,33.896,34.531,35.167,35.802,36.438,37.073,37.708,38.344,38.979,39.615,40.25,40.885,41.521,42.156,42.792,43.427,44.063,44.698,45.333,45.969,46.604,47.24,47.875,48.51,49.146,49.781,50.417,51.052,51.688,52.323,52.958,53.594,54.229,54.865,55.5,56.135,56.771,57.406,58.042,58.677,59.313,59.948,60.583,61.219,61.854,62.49,63.125,63.76,64.396,65.031,65.667,66.302,66.938,67.573,68.208,68.844,69.479,70.115],"tickSize":-5,"labels":false,"domain":false,"grid":false,"title":null}},
  "y":{"field":"p","type":"quantitative","scale":{"domain":[1.22482,1.23391],"nice":false,"zero":false},
   "axis":{"orient":"right","offset":14,"values":[1.225,1.2255,1.226,1.2265,1.227,1.2275,1.228,1.2285,1.229,1.2295,1.23,1.2305,1.231,1.2315,1.232,1.2325,1.233,1.2335],"tickSize":-6,"labels":false,"domain":false,"grid":false,"title":null}},
  "color":{"field":"type","type":"nominal","scale":{"domain":["Buy","Sell","Alerts"],"range":["#00cc00","#dd0000","#bebebe"]},
   "legend":{"orient":"top-left","title":null,"offset":4,"padding":0,"symbolSize":0,"symbolOpacity":0,"symbolStrokeWidth":0,"labelOffset":-7,"labelFont":"DejaVu Sans","labelFontSize":11,"rowPadding":1,"labelColor":{"expr":"datum.value == 'Buy' ? '#00c800' : datum.value == 'Sell' ? '#d40000' : '#b9b9b9'"}}}}},
{"data":{"name":"markers"},
 "transform":[{"filter":"datum.type == 'Sell'"}],
 "mark":{"type":"point","shape":"M0,1L0.8,0.2L0.4,0.2L0.4,-1L-0.4,-1L-0.4,0.2L-0.8,0.2Z","filled":false,"size":120,"strokeWidth":1,"opacity":1},
 "encoding":{
  "x":{"field":"t","type":"quantitative","scale":{"domain":[9.75,70.22],"nice":false,"zero":false,"padding":0},
   "axis":{"orient":"bottom","offset":12,"values":[9.75,14.833,19.917,25.0,30.083,35.167,40.25,45.333,50.417,55.5,60.583,65.667],"tickSize":-12,"labels":false,"domain":false,"grid":false,"title":null}},
  "y":{"field":"p","type":"quantitative","scale":{"domain":[1.22482,1.23391],"nice":false,"zero":false},"axis":null},
  "color":{"field":"type","type":"nominal","scale":{"domain":["Buy","Sell","Alerts"],"range":["#00cc00","#dd0000","#bebebe"]}}}},
{"data":{"name":"markers"},
 "transform":[{"filter":"datum.type == 'Alerts'"}],
 "mark":{"type":"point","shape":"circle","filled":true,"size":95,"opacity":1},
 "encoding":{
  "x":{"field":"t","type":"quantitative","scale":{"domain":[9.75,70.22],"nice":false,"zero":false,"padding":0},"axis":null},
  "y":{"field":"p","type":"quantitative","scale":{"domain":[1.22482,1.23391],"nice":false,"zero":false},"axis":null},
  "color":{"field":"type","type":"nominal","scale":{"domain":["Buy","Sell","Alerts"],"range":["#00cc00","#dd0000","#bebebe"]}}}},
{"data":{"name":"markers"},
 "transform":[{"filter":"datum.type == 'Alerts'"}],
 "mark":{"type":"text","fontSize":7,"fontWeight":"bold","color":"#f4f4f4","baseline":"middle","align":"center","dy":0.5},
 "encoding":{
  "x":{"field":"t","type":"quantitative","scale":{"domain":[9.75,70.22],"nice":false,"zero":false,"padding":0},"axis":null},
  "y":{"field":"p","type":"quantitative","scale":{"domain":[1.22482,1.23391],"nice":false,"zero":false},"axis":null},
  "text":{"value":"1"}}},
{"data":{"values":[{"p":1.22833,"label":"1,22833"}]},
 "mark":{"type":"rect","color":"#66ccff"},
 "encoding":{
  "x":{"datum":70.898,"type":"quantitative","scale":{"domain":[9.75,70.22],"nice":false,"zero":false,"padding":0},"axis":null},
  "x2":{"datum":73.058},
  "y":{"datum":1.22873,"type":"quantitative","scale":{"domain":[1.22482,1.23391],"nice":false,"zero":false},"axis":null},
  "y2":{"datum":1.22795}}},
{"data":{"values":[{"p":1.22833,"label":"1,22833"}]},
 "mark":{"type":"text","align":"left","baseline":"middle","fontSize":11,"font":"DejaVu Sans","color":"#000022"},
 "encoding":{
  "x":{"datum":70.99,"type":"quantitative","scale":{"domain":[9.75,70.22],"nice":false,"zero":false,"padding":0},"axis":null},
  "y":{"field":"p","type":"quantitative","scale":{"domain":[1.22482,1.23391],"nice":false,"zero":false},"axis":null},
  "text":{"field":"label"}}}
]
},
{
"width":1344,"height":60,
"resolve":{"axis":{"x":"independent","y":"independent"}},
"layer":[
{"data":{"name":"eq"},
 "transform":[{"filter":"datum.s == 'Final Equity'"}],
 "mark":{"type":"line","interpolate":"step-after","strokeWidth":2.5},
 "encoding":{
  "x":{"field":"t","type":"quantitative","scale":{"domain":[9.75,70.22],"nice":false,"zero":false,"padding":0},
   "axis":{"orient":"bottom","values":[9.75,14.833,19.917,25.0,30.083,35.167,40.25,45.333,50.417,55.5,60.583,65.667],"grid":true,"ticks":false,"labels":false,"domain":false,"title":null}},
  "y":{"field":"v","type":"quantitative","scale":{"domain":[9871.1,9943.4],"nice":false,"zero":false},
   "axis":{"orient":"right","offset":14,"values":[9880,9890,9900,9910,9920,9930,9940],"tickSize":-4,"labels":false,"domain":true,"grid":false,"title":null}},
  "color":{"field":"s","type":"nominal","scale":{"domain":["Final Equity","Final Balance"],"range":["#7cfc00","#ff8080"]},
   "legend":{"orient":"top-left","title":null,"offset":4,"padding":0,"symbolSize":0,"symbolOpacity":0,"symbolStrokeWidth":0,"labelOffset":-7,"labelFont":"DejaVu Sans","labelFontSize":11,"rowPadding":1,"labelColor":{"expr":"datum.value == 'Final Equity' ? '#a4f03c' : '#ff8080'"}}}}},
{"data":{"name":"eq"},
 "transform":[{"filter":"datum.s == 'Final Balance'"}],
 "mark":{"type":"line","interpolate":"step-after","strokeWidth":2.5},
 "encoding":{
  "x":{"field":"t","type":"quantitative","scale":{"domain":[9.75,70.22],"nice":false,"zero":false,"padding":0},"axis":null},
  "y":{"field":"v","type":"quantitative","scale":{"domain":[9871.1,9943.4],"nice":false,"zero":false},
   "axis":{"orient":"right","offset":14,"values":[9900],"tickSize":-8,"labels":false,"domain":false,"grid":false,"title":null}},
  "color":{"field":"s","type":"nominal","scale":{"domain":["Final Equity","Final Balance"],"range":["#7cfc00","#ff8080"]}}}},
{"data":{"values":[{"label":"FXCM Marketscope © 2018"}]},
 "mark":{"type":"rect","color":"white"},
 "encoding":{
  "x":{"datum":63.07,"type":"quantitative","scale":{"domain":[9.75,70.22],"nice":false,"zero":false,"padding":0},"axis":null},
  "x2":{"datum":70.18},
  "y":{"datum":9872,"type":"quantitative","scale":{"domain":[9871.1,9943.4],"nice":false,"zero":false},"axis":null},
  "y2":{"datum":9888}}},
{"data":{"values":[{"label":"FXCM Marketscope © 2018"}]},
 "mark":{"type":"text","align":"right","baseline":"alphabetic","fontSize":11,"font":"DejaVu Sans","color":"#333366","dx":-1},
 "encoding":{
  "x":{"datum":70.22,"type":"quantitative","scale":{"domain":[9.75,70.22],"nice":false,"zero":false,"padding":0},"axis":null},
  "y":{"datum":9874.7,"type":"quantitative","scale":{"domain":[9871.1,9943.4],"nice":false,"zero":false},"axis":null},
  "text":{"field":"label"}}}
]
}
]
}
